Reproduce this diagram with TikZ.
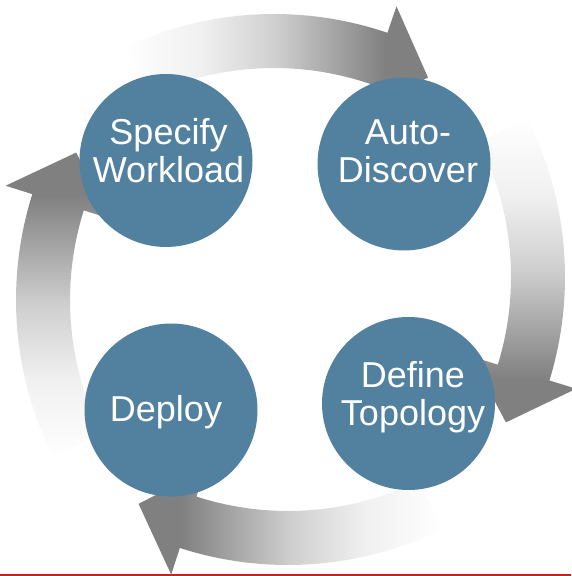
\documentclass[tikz,border=0pt]{standalone}
\usepackage{fontspec}
\setmainfont{Liberation Sans}
\usepackage{tikz}
\usetikzlibrary{shapes.geometric}
\definecolor{stagecolor}{RGB}{82,129,160}
\definecolor{arrowgray}{RGB}{128,128,128}
\definecolor{framered}{RGB}{204,32,32}
\pgfdeclareverticalshading{arrowfade}{100bp}{color(0bp)=(arrowgray); color(32bp)=(arrowgray); color(50bp)=(arrowgray!38); color(62bp)=(arrowgray!12); color(75bp)=(white); color(100bp)=(white)}

\begin{document}
\begin{tikzpicture}[
    x=1pt, y=1pt,
    stage/.style={circle, fill=stagecolor, minimum size=173pt, inner sep=0pt},
    stagetext/.style={text=white, align=center, font=\fontsize{36}{38}\selectfont, inner sep=0pt},
    cyclearrow/.style={shading=arrowfade, shading angle=#1}
]
    \useasboundingbox (0,0) rectangle (571,576);

    % Bottom rule
    \draw[framered, line width=1.5pt] (0,1) -- (571,1);

    % Cycle arrows
    \begin{scope}[shift={(274,210)}]
    \shade[cyclearrow=90] (115.2:352) arc[start angle=115.2, end angle=71.2, radius=352] -- (71.2:380) -- (61.9:327) -- (71.2:270) -- (71.2:298) arc[start angle=71.2, end angle=115.2, radius=298] -- cycle;
    \end{scope}

    \begin{scope}[shift={(213,299)}]
    \shade[cyclearrow=0] (26.9:352) arc[start angle=26.9, end angle=-17.1, radius=352] -- (-17.1:380) -- (-26.4:327) -- (-17.1:270) -- (-17.1:298) arc[start angle=-17.1, end angle=26.9, radius=298] -- cycle;
    \end{scope}

    \begin{scope}[shift={(288,363)}]
    \shade[cyclearrow=-90] (-63.9:352) arc[start angle=-63.9, end angle=-107.9, radius=352] -- (-107.9:380) -- (-117.2:327) -- (-107.9:270) -- (-107.9:298) arc[start angle=-107.9, end angle=-63.9, radius=298] -- cycle;
    \end{scope}

    \begin{scope}[shift={(368,276)}]
    \shade[cyclearrow=180] (206.5:352) arc[start angle=206.5, end angle=162.5, radius=352] -- (162.5:380) -- (153.2:327) -- (162.5:270) -- (162.5:298) arc[start angle=162.5, end angle=206.5, radius=298] -- cycle;
    \end{scope}

    % Stages
    \node[stage] (specify) at (166,415.5) {};
    \node[stage] (discover) at (404,412) {};
    \node[stage] (topology) at (408.5,172.5) {};
    \node[stage] (deploy) at (171,166) {};

    % Stage labels
    \node[stagetext] (specifyText) at (168.5,425) {Specify\\Workload};
    \node[stagetext] (discoverText) at (408,425) {Auto-\\Discover};
    \node[stagetext] (topologyText) at (413,179.3) {Define\\Topology};
    \node[stagetext] (deployText) at (166,164) {Deploy};
\end{tikzpicture}
\end{document}
